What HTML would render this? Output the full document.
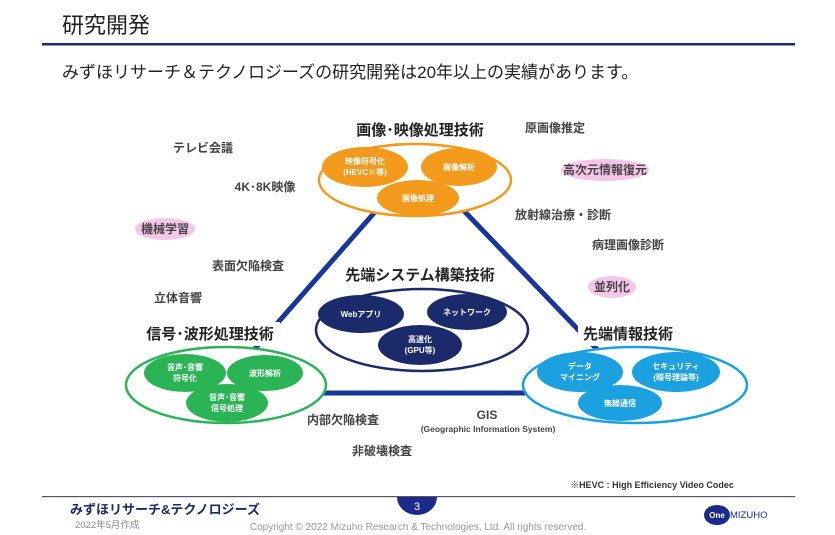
<!DOCTYPE html>
<html><head><meta charset="utf-8"><style>
body{margin:0;width:835px;height:535px;background:#fff;overflow:hidden}
svg{display:block}
text{font-family:"Liberation Sans","Noto Sans CJK JP",sans-serif}
</style></head><body>
<svg width="835" height="535" viewBox="0 0 835 535">
<text x="62" y="33" font-size="22" fill="#222">研究開発</text>
<rect x="42" y="43" width="753" height="2.5" fill="#1b2a6b"/>
<text x="62" y="78" font-size="17" fill="#222">みずほリサーチ＆テクノロジーズの研究開発は20年以上の実績があります。</text>

<polygon points="418,163 216,393 639,393" fill="none" stroke="#17389a" stroke-width="5" stroke-linejoin="round"/>

<!-- orange -->
<ellipse cx="415" cy="180" rx="96" ry="36" fill="#fff" stroke="#f39a1c" stroke-width="2.5"/>
<ellipse cx="365" cy="167" rx="43" ry="20" fill="#f39a1c"/>
<ellipse cx="459" cy="167" rx="38" ry="19" fill="#f39a1c"/>
<ellipse cx="418" cy="198" rx="41" ry="18" fill="#f39a1c"/>
<g fill="#fff" font-size="8" font-weight="bold" text-anchor="middle">
<text x="365" y="164">映像符号化</text><text x="365" y="175">(HEVC※等)</text>
<text x="459" y="170">画像解析</text><text x="418" y="201">画像処理</text></g>
<text x="420" y="135" font-size="15" font-weight="bold" fill="#222" text-anchor="middle">画像･映像処理技術</text>

<!-- navy -->
<ellipse cx="422" cy="330" rx="106" ry="41" fill="#fff" stroke="#1b2a6b" stroke-width="2.5"/>
<ellipse cx="361" cy="314" rx="43" ry="19" fill="#1b2a6b"/>
<ellipse cx="467" cy="312" rx="40" ry="18" fill="#1b2a6b"/>
<ellipse cx="420" cy="345" rx="42" ry="20" fill="#1b2a6b"/>
<g fill="#fff" font-size="8" font-weight="bold" text-anchor="middle">
<text x="361" y="317">Webアプリ</text><text x="467" y="315">ネットワーク</text>
<text x="420" y="342">高速化</text><text x="420" y="353">(GPU等)</text></g>
<text x="420" y="280" font-size="15" font-weight="bold" fill="#222" text-anchor="middle">先端システム構築技術</text>

<!-- green -->
<rect x="140" y="322" width="140" height="24" fill="#fff"/>
<ellipse cx="226" cy="385" rx="100" ry="38" fill="#fff" stroke="#2bb455" stroke-width="2.5"/>
<ellipse cx="185" cy="373" rx="41" ry="19" fill="#2bb455"/>
<ellipse cx="265" cy="373" rx="38" ry="18" fill="#2bb455"/>
<ellipse cx="227" cy="403" rx="41" ry="19" fill="#2bb455"/>
<g fill="#fff" font-size="8" font-weight="bold" text-anchor="middle">
<text x="185" y="370">音声･音響</text><text x="185" y="381">符号化</text>
<text x="265" y="376">波形解析</text>
<text x="227" y="400">音声･音響</text><text x="227" y="411">信号処理</text></g>
<text x="210" y="339" font-size="15" font-weight="bold" fill="#222" text-anchor="middle">信号･波形処理技術</text>

<!-- blue -->
<rect x="578" y="322" width="100" height="24" fill="#fff"/>
<ellipse cx="635" cy="385" rx="112" ry="38" fill="#fff" stroke="#1ba0e0" stroke-width="2.5"/>
<ellipse cx="580" cy="372" rx="43" ry="20" fill="#1ba0e0"/>
<ellipse cx="676" cy="372" rx="44" ry="20" fill="#1ba0e0"/>
<ellipse cx="620" cy="403" rx="42" ry="18" fill="#1ba0e0"/>
<g fill="#fff" font-size="8" font-weight="bold" text-anchor="middle">
<text x="580" y="369">データ</text><text x="580" y="380">マイニング</text>
<text x="676" y="369">セキュリティ</text><text x="676" y="380">(暗号理論等)</text>
<text x="620" y="406">無線通信</text></g>
<text x="628" y="339" font-size="15" font-weight="bold" fill="#222" text-anchor="middle">先端情報技術</text>

<!-- pinks -->
<ellipse cx="165" cy="229" rx="30" ry="11" fill="#f6c6ea"/>
<ellipse cx="605" cy="170" rx="44" ry="11" fill="#f6c6ea"/>
<ellipse cx="612" cy="287" rx="24" ry="11" fill="#f6c6ea"/>
<g fill="#444" font-size="12" font-weight="bold" text-anchor="middle">
<text x="203" y="152">テレビ会議</text>
<text x="265" y="191">4K･8K映像</text>
<text x="165" y="233">機械学習</text>
<text x="248" y="270">表面欠陥検査</text>
<text x="178" y="302">立体音響</text>
<text x="555" y="132">原画像推定</text>
<text x="605" y="174">高次元情報復元</text>
<text x="563" y="219">放射線治療・診断</text>
<text x="628" y="249">病理画像診断</text>
<text x="612" y="291">並列化</text>
<text x="343" y="424">内部欠陥検査</text>
<text x="487" y="419">GIS</text>
<text x="382" y="455">非破壊検査</text>
</g>
<text x="488" y="432" font-size="8.5" font-weight="bold" fill="#444" text-anchor="middle">(Geographic Information System)</text>
<text x="652" y="488" font-size="9" font-weight="bold" fill="#333" text-anchor="middle">※HEVC : High Efficiency Video Codec</text>

<rect x="42" y="496" width="753" height="1.2" fill="#556"/>
<path d="M397,497 L437,497 A20,18 0 0 1 397,497 Z" fill="#1b2a8b"/>
<text x="417" y="510" font-size="11" fill="#fff" text-anchor="middle">3</text>
<text x="70" y="514" font-size="13" font-weight="bold" fill="#1b2a6b">みずほリサーチ&amp;テクノロジーズ</text>
<text x="75" y="528" font-size="9.5" fill="#888">2022年5月作成</text>
<text x="418" y="530" font-size="10" fill="#999" text-anchor="middle">Copyright © 2022 Mizuho Research &amp; Technologies, Ltd. All rights reserved.</text>
<ellipse cx="717" cy="515" rx="13" ry="10" fill="#1b2a8b"/>
<text x="717" y="518" font-size="8" font-weight="bold" fill="#fff" text-anchor="middle">One</text>
<text x="730" y="518" font-size="9.5" fill="#1b2a8b">MIZUHO</text>
</svg>
</body></html>
